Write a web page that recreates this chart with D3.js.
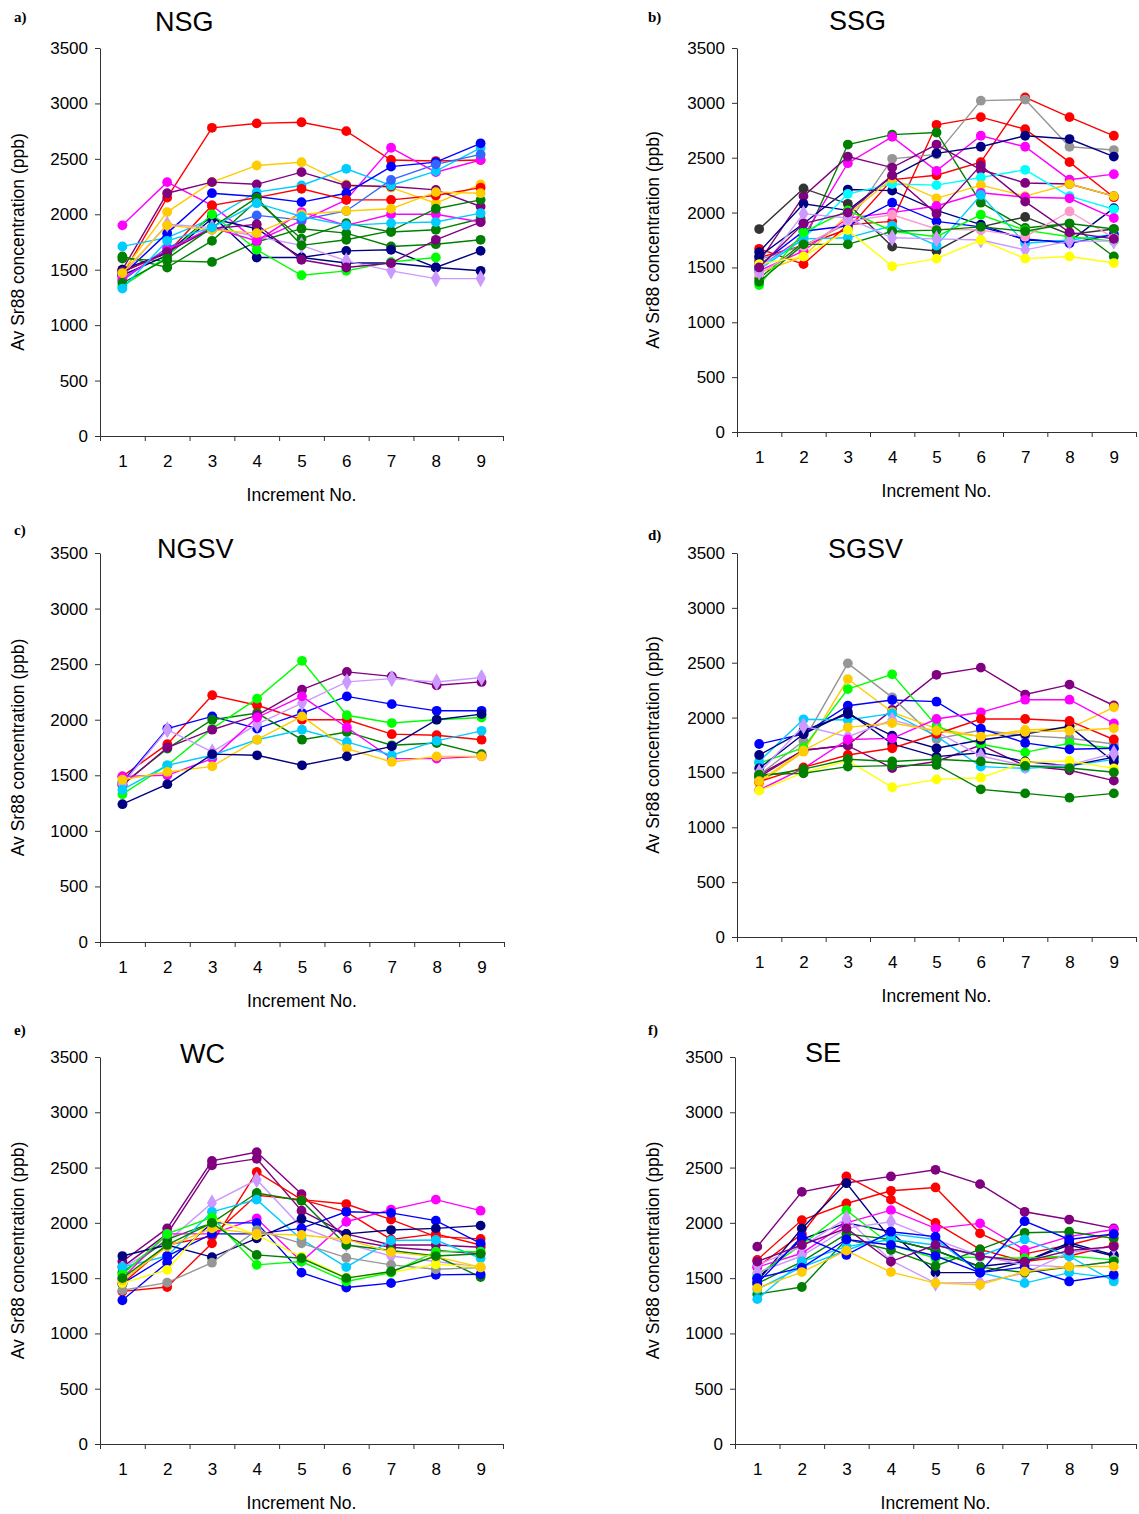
<!DOCTYPE html>
<html>
<head>
<meta charset="utf-8">
<script src="https://cdn.jsdelivr.net/npm/d3@7"></script>
<style>
body { margin: 0; background: #fff; }
text { font-family: Arial, "Liberation Sans", sans-serif; }
</style>
</head>
<body>
<svg id="chart" width="1139" height="1514"></svg>
<script>
var increments = [1, 2, 3, 4, 5, 6, 7, 8, 9]
var yTicks = [0, 500, 1000, 1500, 2000, 2500, 3000, 3500]

// a) NSG
var nsgColors = ["#FF0000","#FF00FF","#FFCC00","#800080","#00CCFF","#0000FF","#FF0000","#3366FF","#008000","#008000",
                 "#000080","#000080","#00FF00","#CC99FF","#FF00FF","#800080","#008000","#FFCC00","#00CCFF"]
var nsgValues = [
  [1450,2150,2780,2820,2830,2750,2490,2480,2490],
  [1900,2290,2080,1760,1940,2130,2600,2380,2490],
  [1480,2020,2290,2440,2470,2270,2240,2100,2270],
  [1500,2190,2290,2270,2380,2260,2250,2220,2070],
  [1710,1790,1960,2200,2260,2410,2260,2390,2600],
  [1450,1830,2190,2160,2110,2190,2430,2470,2640],
  [1480,1650,2080,2150,2230,2130,2130,2170,2240],
  [1400,1700,1860,1990,1950,2030,2310,2450,2540],
  [1620,1520,1760,2120,1780,1920,1840,1860,1960],
  [1600,1580,1570,1750,1870,1830,1710,1730,1770],
  [1450,1630,1960,1870,1610,1670,1680,1520,1670],
  [1500,1650,1990,1610,1610,1560,1560,1520,1490],
  [1350,1620,2000,1680,1450,1490,1570,1610,null],
  [1450,1910,1880,1800,1720,1580,1490,1420,1420],
  [1420,1680,1880,1760,2020,1900,2000,2000,1930],
  [1480,1660,1870,1910,1590,1520,1560,1770,1930],
  [1380,1600,1880,2150,1720,1770,1850,2050,2130],
  [1470,1900,1860,1830,2000,2030,2050,2200,2190],
  [1330,1760,1880,2100,1980,1900,1920,1930,2010]
]

// b) SSG
var ssgColors = ["#FF0000","#FF0000","#969696","#008000","#FF00FF","#800080","#000080","#000080","#333333","#00FFFF",
                 "#FFCC00","#FF00FF","#00CCFF","#0000FF","#00FF00","#FF99CC","#008000","#CC99FF","#FFFF00","#800080"]
var ssgValues = [
  [1670,1530,1890,1920,2800,2870,2760,2460,2140],
  [1590,1700,1850,2300,2340,2460,3050,2870,2700],
  [1570,1700,1900,2490,2530,3020,3030,2600,2570],
  [1400,1730,2620,2710,2730,2090,1860,1900,1600],
  [1500,1780,2450,2690,2380,2700,2600,2300,2350],
  [1550,2150,2510,2410,2620,2390,2270,2260,2150],
  [1640,2080,2020,2330,2540,2600,2700,2670,2510],
  [1600,1900,2210,2200,2020,1890,1750,1735,2040],
  [1850,2220,2080,1690,1650,1870,1960,1800,1850],
  [1500,1760,2170,2260,2250,2320,2390,2150,2030],
  [1450,1600,1980,2310,2130,2250,2150,2260,2150],
  [1470,1650,1950,2000,2060,2180,2140,2130,1950],
  [1480,1760,1770,1880,1700,2160,1720,1750,1800],
  [1520,1830,1880,2090,1920,1870,1760,1720,1800],
  [1340,1820,2020,1830,1780,1980,1840,1780,1740],
  [1440,1690,1920,1980,1850,1840,1780,2010,1770],
  [1370,1710,1710,1830,1840,1870,1830,1900,1850],
  [1460,1990,1950,1770,1760,1750,1660,1740,1740],
  [1530,1600,1840,1510,1580,1750,1580,1600,1540],
  [1500,1900,2000,2340,1990,2430,2100,1820,1760]
]

// c) NGSV
var ngsvColors = ["#FF0000","#0000FF","#008000","#00FF00","#800080","#CC99FF","#FF00FF","#00CCFF","#FFCC00","#000080"]
var ngsvValues = [
  [1490,1780,2220,2130,2000,2000,1870,1860,1820],
  [1440,1920,2030,1920,2060,2210,2140,2080,2080],
  [1420,1740,2000,2060,1820,1890,1770,1790,1690],
  [1330,1590,1920,2190,2530,2040,1970,2000,2020],
  [1410,1750,1910,2040,2270,2430,2390,2310,2340],
  [1420,1910,1710,1960,2150,2340,2370,2340,2380],
  [1490,1500,1650,2020,2210,1930,1650,1650,1670],
  [1370,1590,1680,1820,1910,1800,1680,1810,1900],
  [1460,1530,1580,1820,2030,1740,1620,1670,1670],
  [1240,1420,1690,1680,1590,1670,1760,2000,2050]
]

// d) SGSV
var sgsvColors = ["#800080","#800080","#969696","#FFCC00","#00FF00","#0000FF","#00CCFF","#000080","#000080","#CC99FF",
                  "#FF00FF","#FF0000","#FFFF00","#008000","#008000","#FFCC00"]
var sgsvValues = [
  [1480,1700,1750,2070,2390,2455,2210,2300,2110],
  [1460,1705,1744,1540,1600,1750,1560,1520,1425],
  [1476,1787,2494,2184,1805,1887,1835,1811,1759],
  [1400,1689,2351,2050,1900,1826,1887,1902,2093],
  [1583,1726,2260,2394,1926,1757,1683,1766,1720],
  [1759,1850,2108,2160,2145,1900,1769,1711,1720],
  [1600,1984,1978,2038,1830,1553,1537,1560,1619],
  [1659,1880,2032,1835,1720,1796,1850,1920,1598],
  [1537,1850,2050,1760,1644,1680,1600,1560,1640],
  [1500,1923,1826,1978,1872,1650,1560,1568,1674],
  [1340,1537,1800,1810,1987,2048,2163,2163,1947],
  [1416,1546,1659,1720,1850,1987,1987,1969,1800],
  [1334,1498,1607,1365,1437,1452,1592,1604,1537],
  [1480,1492,1553,1562,1568,1346,1309,1270,1309],
  [1460,1530,1620,1600,1620,1600,1560,1540,1501],
  [1420,1700,1911,1950,1880,1826,1870,1880,1902]
]

// e) WC
var wcColors = ["#800080","#800080","#FF0000","#FF0000","#CC99FF","#008000","#00CCFF","#FF00FF","#0000FF","#0000FF",
                "#000080","#969696","#FFFF00","#00FF00","#FFCC00","#008000"]
var wcValues = [
  [1650,1950,2560,2640,2260,1850,1780,1750,1720],
  [1600,1900,2520,2580,2110,1900,1800,1800,1780],
  [1380,1420,1815,2460,2210,2170,2030,1875,1855],
  [1450,1800,1880,2250,2210,2100,1850,1900,1800],
  [1590,1830,2180,2390,1960,1810,1700,1650,1600],
  [1550,1850,2000,2270,2200,1800,1750,1700,1510],
  [1600,1700,2100,2210,1850,1600,1840,1845,1680],
  [1500,1900,1900,2040,1650,2010,2120,2210,2110],
  [1300,1640,2000,2000,1550,1415,1455,1530,1535],
  [1450,1700,1900,1900,1950,2100,2090,2020,1815],
  [1700,1800,1690,1860,2035,1900,1935,1950,1975],
  [1390,1460,1640,1935,1815,1685,1620,1580,1595],
  [1455,1575,2040,1890,1695,1505,1550,1625,1600],
  [1530,1900,2050,1620,1650,1470,1550,1740,1740],
  [1480,1785,1950,1900,1890,1850,1735,1695,1600],
  [1500,1800,2000,1710,1680,1500,1560,1700,1720]
]

// f) SE
var seColors = ["#800080","#FF0000","#FF0000","#000080","#000080","#FF00FF","#00FF00","#CC99FF","#CC99FF","#008000",
                "#008000","#00CCFF","#00CCFF","#0000FF","#0000FF","#FFCC00","#800080"]
var seValues = [
  [1785,2280,2360,2420,2480,2350,2100,2030,1950],
  [1665,2025,2175,2290,2320,1905,1720,1800,1900],
  [1600,1900,2420,2210,2000,1760,1650,1700,1800],
  [1470,1950,2360,1850,1750,1605,1650,1820,1710],
  [1500,1850,2000,1920,1550,1550,1650,1800,1700],
  [1600,1725,2000,2115,1950,1995,1755,1875,1940],
  [1530,1800,2115,1800,1680,1690,1680,1700,1665],
  [1620,1785,2040,1660,1455,1460,1545,1730,1785],
  [1550,1700,1950,2010,1850,1700,1620,1600,1650],
  [1355,1420,1850,1755,1610,1760,1910,1920,1860],
  [1450,1650,1900,1850,1750,1600,1550,1600,1650],
  [1310,1650,1785,1850,1800,1700,1850,1700,1470],
  [1400,1600,1750,1900,1850,1550,1455,1550,1500],
  [1450,1875,1710,1920,1875,1550,2015,1850,1900],
  [1500,1595,1850,1800,1700,1550,1600,1470,1530],
  [1410,1555,1750,1555,1455,1440,1560,1605,1605],
  [1650,1800,1950,1650,1800,1700,1650,1750,1785]
]

var svg = d3.select("#chart")

var panels = [
  {letter:"a)", title:"NSG",  values:nsgValues,  colors:nsgColors,  x0:100, x1:503,  top:48,   bottom:436,  titleX:155, titleY:31,   letterX:14,  letterY:22,   ylabX:18},
  {letter:"b)", title:"SSG",  values:ssgValues,  colors:ssgColors,  x0:737, x1:1136, top:48,   bottom:432,  titleX:829, titleY:30,   letterX:648, letterY:22,   ylabX:653},
  {letter:"c)", title:"NGSV", values:ngsvValues, colors:ngsvColors, x0:100, x1:504,  top:553,  bottom:942,  titleX:157, titleY:558,  letterX:14,  letterY:535,  ylabX:18},
  {letter:"d)", title:"SGSV", values:sgsvValues, colors:sgsvColors, x0:737, x1:1136, top:553,  bottom:937,  titleX:828, titleY:558,  letterX:648, letterY:540,  ylabX:653},
  {letter:"e)", title:"WC",   values:wcValues,   colors:wcColors,   x0:100, x1:503,  top:1057, bottom:1444, titleX:180, titleY:1063, letterX:14,  letterY:1035, ylabX:18},
  {letter:"f)", title:"SE",   values:seValues,   colors:seColors,   x0:735, x1:1136, top:1057, bottom:1444, titleX:805, titleY:1062, letterX:648, letterY:1035, ylabX:653}
]

function drawPanel(p) {
  var g = svg.append("g")

  var y = d3.scaleLinear().domain([0, 3500]).range([p.bottom, p.top])
  var x = d3.scaleLinear().domain([0.5, 9.5]).range([p.x0, p.x1])

  // x axis: ticks between categories, labels on categories
  g.append("g").attr("transform", "translate(0," + p.bottom + ")")
    .call(d3.axisBottom(x).tickValues(d3.range(0.5, 10, 1)).tickFormat("").tickSize(5).tickSizeOuter(0))
  var xLabels = g.append("g").attr("transform", "translate(0," + p.bottom + ")")
    .call(d3.axisBottom(x).tickValues(increments).tickFormat(d3.format("d")).tickSize(0).tickPadding(19))
  xLabels.select(".domain").remove()

  g.append("g").attr("transform", "translate(" + p.x0 + ",0)")
    .call(d3.axisLeft(y).tickValues(yTicks).tickFormat(d3.format("d")).tickSize(5).tickPadding(7).tickSizeOuter(0))

  g.selectAll(".domain, .tick line").attr("stroke", "#333").attr("stroke-width", 1)
  g.selectAll(".tick text").attr("font-size", "17px").attr("fill", "#000")
    .style("font-family", "Arial, 'Liberation Sans', sans-serif")

  g.append("text")
    .attr("x", (p.x0 + p.x1) / 2)
    .attr("y", p.bottom + 65)
    .attr("text-anchor", "middle")
    .attr("font-size", "17.5px")
    .text("Increment No.")

  g.append("text")
    .attr("transform", "translate(" + p.ylabX + "," + (p.top + p.bottom) / 2 + ") rotate(-90)")
    .attr("text-anchor", "middle")
    .attr("dy", "0.35em")
    .attr("font-size", "17.5px")
    .text("Av Sr88 concentration (ppb)")

  g.append("text")
    .attr("x", p.titleX).attr("y", p.titleY)
    .attr("font-size", "27px")
    .text(p.title)

  g.append("text")
    .attr("x", p.letterX).attr("y", p.letterY)
    .attr("font-size", "15px")
    .attr("font-weight", "bold")
    .style("font-family", "'Liberation Serif', 'Times New Roman', serif")
    .text(p.letter)

  var line = d3.line()
    .defined(function (d) { return d != null })
    .x(function (d, i) { return x(i + 1) })
    .y(function (d) { return y(d) })

  var diamond = d3.symbol().type(d3.symbolDiamond).size(85)

  p.values.forEach(function (vals, s) {
    var col = p.colors[s]
    var sg = g.append("g")
    sg.append("path")
      .attr("d", line(vals))
      .attr("fill", "none")
      .attr("stroke", col)
      .attr("stroke-width", 1.4)

    var pts = vals.map(function (v, i) { return {v: v, i: i} }).filter(function (d) { return d.v != null })
    if (col == "#CC99FF") {
      sg.selectAll("path.m").data(pts).enter().append("path")
        .attr("class", "m")
        .attr("d", diamond)
        .attr("transform", function (d) { return "translate(" + x(d.i + 1) + "," + y(d.v) + ")" })
        .attr("fill", col)
    } else {
      sg.selectAll("circle").data(pts).enter().append("circle")
        .attr("cx", function (d) { return x(d.i + 1) })
        .attr("cy", function (d) { return y(d.v) })
        .attr("r", 4.9)
        .attr("fill", col)
    }
  })
}

panels.forEach(drawPanel)
</script>
</body>
</html>
